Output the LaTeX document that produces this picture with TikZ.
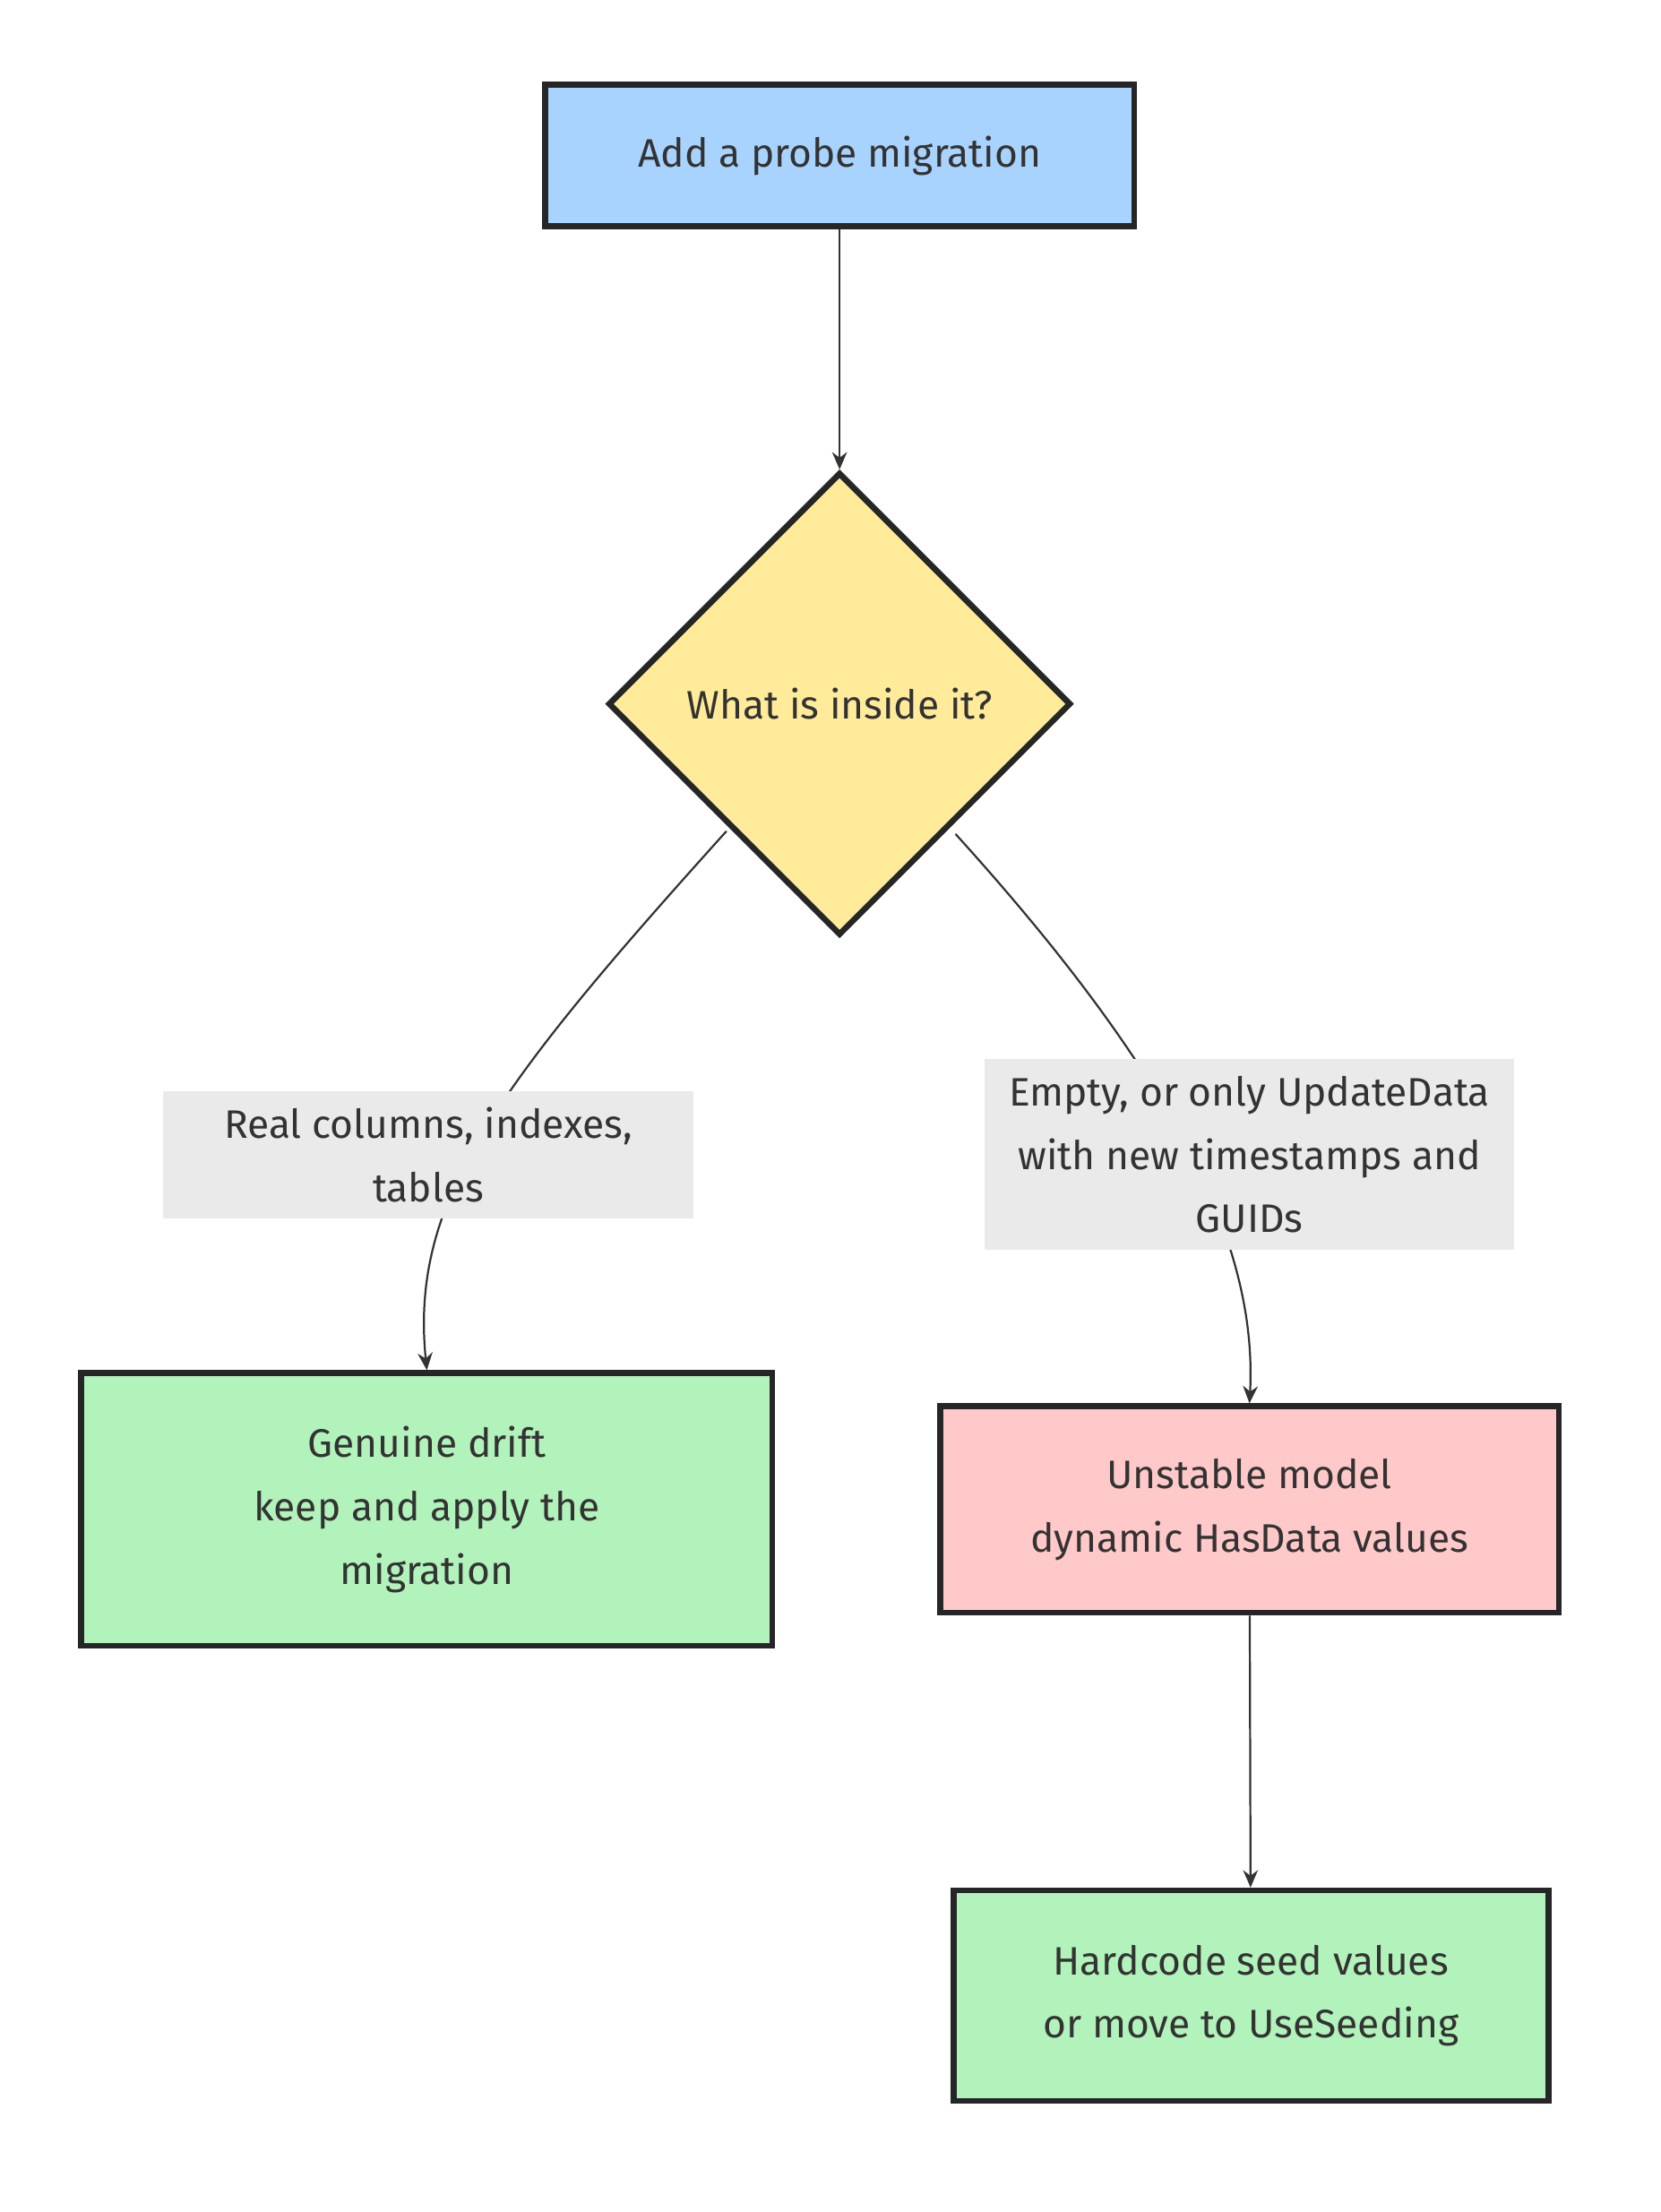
\documentclass[tikz,border=0pt]{standalone}
\usepackage{fontspec}
\setmainfont{Fira Sans}
\usetikzlibrary{shapes.geometric,arrows.meta,positioning}
\definecolor{probeblue}{HTML}{A9D3FF}
\definecolor{askyellow}{HTML}{FFEB99}
\definecolor{okgreen}{HTML}{B2F2BB}
\definecolor{badred}{HTML}{FFC9C9}
\definecolor{labelgrey}{HTML}{EAEAEA}
\begin{document}
\begin{tikzpicture}[x=0.02cm,y=-0.02cm]

\tikzset{stepnode/.style={font=\fontsize{16}{25.5}\selectfont,draw=black!85,line width=2.4pt,align=center,shape=rectangle,inner sep=0pt,text=black!80},
asknode/.style={stepnode,shape=diamond,aspect=1,minimum size=6.55cm},
edgelabel/.style={font=\fontsize{16}{25.5}\selectfont,fill=labelgrey,align=center,inner sep=0pt,text=black!80},
flow/.style={draw=black!80,line width=0.8pt,-{Stealth[length=7pt,width=6pt]}}}

\useasboundingbox (0,0) rectangle (1175,1565);

% Nodes
\node (probe) [stepnode,fill=probeblue,minimum width=8.34cm,minimum height=2cm] at (594,110) {Add a probe migration};
\node (inside) [asknode,fill=askyellow] at (594,498) {What is inside it?};
\node (drift) [stepnode,fill=okgreen,minimum width=9.78cm,minimum height=3.86cm] at (302,1068) {Genuine drift\\keep and apply the\\migration};
\node (unstable) [stepnode,fill=badred,minimum width=8.76cm,minimum height=2.92cm] at (884,1068) {Unstable model\\dynamic HasData values};
\node (hardcode) [stepnode,fill=okgreen,minimum width=8.42cm,minimum height=2.98cm] at (885,1412) {Hardcode seed values\\or move to UseSeeding};

% Edges
\draw[flow] (probe) -- (inside);
\draw[flow] (514,588) .. controls (350,770) and (290,850) .. (drift.north);
\draw[flow] (676,590) .. controls (830,760) and (890,880) .. (unstable.north);
\draw[flow] (unstable) -- (hardcode);

% Edge labels
\node (lblreal) [edgelabel,minimum width=7.5cm,minimum height=1.8cm] at (303,817) {Real columns, indexes,\\tables};
\node (lblempty) [edgelabel,minimum width=7.5cm,minimum height=2.7cm] at (884,817) {Empty, or only UpdateData\\with new timestamps and\\GUIDs};

\end{tikzpicture}
\end{document}
